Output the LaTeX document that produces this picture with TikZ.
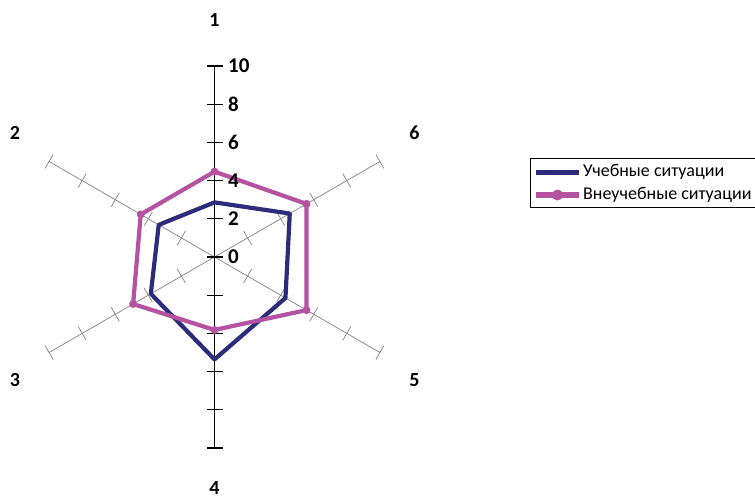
\documentclass[tikz,border=0pt]{standalone}
\usepackage{fontspec}
\setmainfont{Carlito}
\definecolor{ucheb}{RGB}{45,44,122}
\definecolor{vneuch}{RGB}{182,82,162}
\definecolor{axgray}{RGB}{128,128,128}
\tikzset{
  catlabel/.style={font=\bfseries\fontsize{20}{20}\selectfont, inner sep=0pt},
  ticklabel/.style={font=\bfseries\fontsize{21}{21}\selectfont, inner sep=0pt, anchor=west},
  legtext/.style={font=\fontsize{18}{18}\selectfont, inner sep=0pt, anchor=west},
  grayaxis/.style={draw=axgray, line width=0.7pt},
  blackaxis/.style={draw=black, line width=1.1pt},
  seriesA/.style={draw=ucheb, line width=4.2pt, line join=round},
  seriesB/.style={draw=vneuch, line width=4.2pt, line join=round},
  dotB/.style={fill=vneuch},
}
\begin{document}
\begin{tikzpicture}[x=1pt,y=-1pt]
\useasboundingbox (0,0) rectangle (755,498);
\clip (0,0) rectangle (755,498);
% category labels
\node[catlabel] (l1) at (214.5,20) {1};
\node[catlabel] (l2) at (15,132.5) {2};
\node[catlabel] (l3) at (15,380.5) {3};
\node[catlabel] (l4) at (214.5,488) {4};
\node[catlabel] (l5) at (414.5,380) {5};
\node[catlabel] (l6) at (414.5,132.5) {6};
\begin{scope}[shift={(214.5,257)}, x=19.1pt, y=19.1pt]
  \coordinate (c) at (0,0);
  \foreach \i/\a in {1/90,2/150,3/210,4/270,5/330,6/30}
    \coordinate (a\i) at (\a:10);
  % gray axes
  \foreach \i/\a in {2/150,3/210,5/330,6/30}{
    \draw[grayaxis] (c) -- (a\i);
    \foreach \r in {2,4,6,8,10}
      \draw[grayaxis] ([shift={(\a+90:0.42)}]\a:\r) -- ([shift={(\a-90:0.42)}]\a:\r);
  }
  % black vertical axis
  \draw[blackaxis] (a1) -- (a4);
  \foreach \r in {-10,-8,-6,-4,-2,0,2,4,6,8,10}
    \draw[blackaxis] (-0.39,\r) -- (0.45,\r);
  % series A
  \foreach \i/\a/\v in {1/90/2.86,2/150/3.37,3/210/3.85,4/270/5.36,5/330/4.29,6/30/4.55}
    \coordinate (b\i) at (\a:\v);
  \draw[seriesA] (b1) -- (b2) -- (b3) -- (b4) -- (b5) -- (b6) -- cycle;
  % series B
  \foreach \i/\a/\v in {1/90/4.47,2/150/4.46,3/210/4.92,4/270/3.82,5/330/5.56,6/30/5.56}
    \coordinate (p\i) at (\a:\v);
  \draw[seriesB] (p1) -- (p2) -- (p3) -- (p4) -- (p5) -- (p6) -- cycle;
  \foreach \i in {1,...,6}
    \fill[dotB] (p\i) circle (4pt);
\end{scope}
% tick labels
\node[ticklabel] (t0) at (228,257) {0};
\node[ticklabel] (t2) at (228,218.8) {2};
\node[ticklabel] (t4) at (228,180.6) {4};
\node[ticklabel] (t6) at (228,142.4) {6};
\node[ticklabel] (t8) at (228,104.2) {8};
\node[ticklabel] (t10) at (228,66) {10};
% legend
\coordinate (lgtr) at (760,158.5);
\coordinate (lgbl) at (530.5,207.5);
\draw[line width=1pt] (lgbl) rectangle (lgtr);
\coordinate (la1) at (536,172.3);
\coordinate (la2) at (579,172.3);
\draw[draw=ucheb, line width=5.5pt] (la1) -- (la2);
\node[legtext] (lt1) at (583,172.3) {Учебные ситуации};
\coordinate (lb1) at (536,195);
\coordinate (lb2) at (579,195);
\coordinate (lbm) at (557.5,195);
\draw[draw=vneuch, line width=5.5pt] (lb1) -- (lb2);
\fill[dotB] (lbm) circle (5.5pt);
\node[legtext] (lt2) at (583,195) {Внеучебные ситуации};
\end{tikzpicture}
\end{document}
